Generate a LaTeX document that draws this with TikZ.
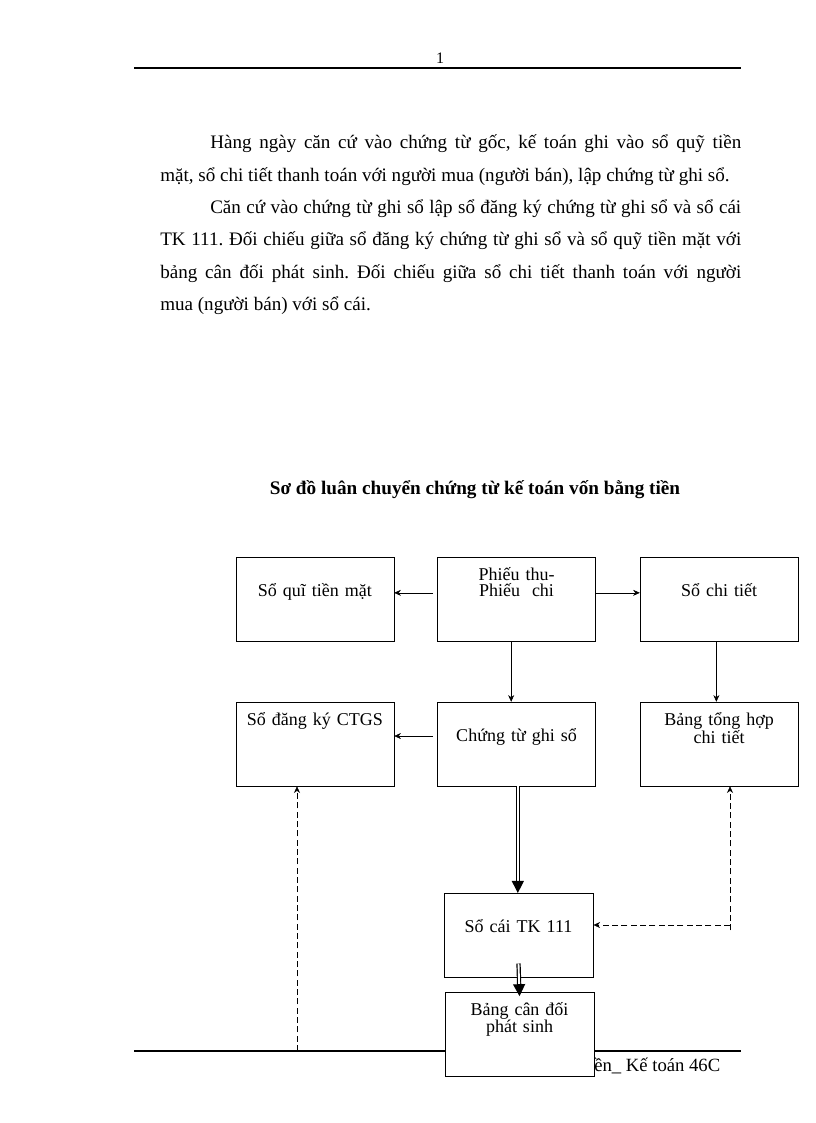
\documentclass[tikz,border=0pt]{standalone}
\usepackage{fontspec}
\setmainfont{Liberation Serif}
\usetikzlibrary{positioning,arrows.meta}

\begin{document}
\begin{tikzpicture}[x=0.75pt,y=-0.75pt]
		\tikzset{module/.style={draw,
								rectangle,
								fill=white,
								inner sep=0pt,
								minimum width=118.5pt,
								minimum height=63pt,
								text width=112pt,
								align=center,
								font=\fontsize{13.5}{12}\selectfont,
								text height=12pt,
								text depth=16pt},
				 toptext/.style={text depth=40pt},
				 arrow/.style={->,
							   >={Stealth[length=5pt,width=4.5pt]}},
				 fat/.style={double,
							 double distance=1.4pt,
							 line width=0.9pt,
							 -{Triangle[length=9pt,width=9pt]}},
				 dashedarrow/.style={arrow,
									 dash pattern=on 4.5pt off 2.5pt},
				 rule/.style={line width=1.5pt}}
		\useasboundingbox (0,0) rectangle (816,1123);

		% Page
		\node[font=\fontsize{12}{14}\selectfont] (pageno) at (440,58) {1};
		\draw[rule] (134,68) -- (741,68);
		\draw[rule] (134,1051) -- (741,1051);
		\node[anchor=base west, inner sep=0pt, text width=435.75pt, align=justify,
			  font=\frenchspacing\fontsize{14.3}{24.2}\selectfont] (intro) at (160,149)
			{\hspace*{37.5pt}Hàng ngày căn cứ vào chứng từ gốc, kế toán ghi vào sổ quỹ tiền\linebreak
			 mặt, sổ chi tiết thanh toán với người mua (người bán), lập chứng từ ghi sổ.\par
			 \hspace*{37.5pt}Căn cứ vào chứng từ ghi sổ lập sổ đăng ký chứng từ ghi sổ và sổ cái\linebreak
			 TK 111. Đối chiếu giữa sổ đăng ký chứng từ ghi sổ và sổ quỹ tiền mặt với\linebreak
			 bảng cân đối phát sinh. Đối chiếu giữa sổ chi tiết thanh toán với người\linebreak
			 mua (người bán) với sổ cái.};
		\node[font=\bfseries\fontsize{14.4}{16}\selectfont] (title) at (475,490)
			{Sơ đồ luân chuyển chứng từ kế toán vốn bằng tiền};
		\node[anchor=base west, inner sep=0pt, font=\fontsize{14}{16}\selectfont] (footer) at (594,1071)
			{ền\_ Kế toán 46C};

		% Nodes
		\node[module, toptext] (phieu) at (516.5,599.5) {Phiếu thu-\\Phiếu~ chi};
		\node[module, left=32.25pt of phieu] (quy) {Sổ quĩ tiền mặt};
		\node[module, right=33pt of phieu] (chitiet) {Sổ chi tiết};
		\node[module, below=45pt of phieu] (ctgs) {Chứng từ ghi sổ};
		\node[module, toptext, left=32.25pt of ctgs] (dangky) {Sổ đăng ký CTGS};
		\node[module, toptext, right=33pt of ctgs] (tonghop) {Bảng tổng hợp\\chi tiết};
		\node[module, minimum width=110pt, below=80pt of ctgs, xshift=1.5pt] (socai) {Sổ cái TK 111};
		\node[module, toptext, minimum width=112pt, below=10.5pt of socai, xshift=0.75pt] (candoi) {Bảng cân đối\\phát sinh};
		\coordinate (footleft) at (297,1051);
		\coordinate (corner) at (730,925);

		% Arrows
		\draw[arrow, shorten <=3pt] ([yshift=5pt]phieu.west) -- ([yshift=5pt]quy.east);
		\draw[arrow] ([yshift=5pt]phieu.east) -- ([yshift=5pt]chitiet.west);
		\draw[arrow] ([xshift=-4pt]phieu.south) -- ([xshift=-4pt]ctgs.north);
		\draw[arrow] ([xshift=-2pt]chitiet.south) -- ([xshift=-2pt]tonghop.north);
		\draw[arrow, shorten <=3pt] ([yshift=6pt]ctgs.west) -- ([yshift=6pt]dangky.east);
		\draw[fat] ([xshift=1pt]ctgs.south) -- ([xshift=-0.5pt]socai.north);
		\draw[fat] ([yshift=10.5pt]socai.south) -- ([yshift=-3.5pt]candoi.north);
		\draw[dashedarrow] (footleft) -- (footleft |- dangky.south);
		\draw[dashedarrow] ([yshift=-4pt]corner) -- (corner |- tonghop.south);
		\draw[dashedarrow] (corner) -- (corner -| socai.east);
\end{tikzpicture}
\end{document}
